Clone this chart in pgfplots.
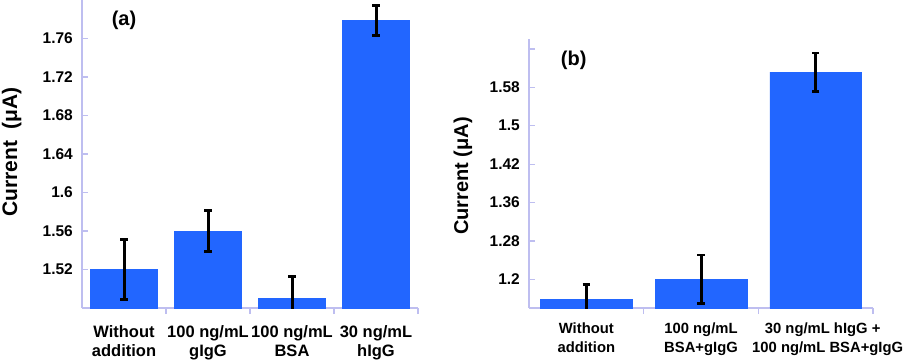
\documentclass[border=0pt]{standalone}
\usepackage{pgfplots}
\pgfplotsset{compat=1.18}
\usepackage{fontspec}
\setmainfont{Liberation Sans}
\definecolor{barblue}{RGB}{34,102,255}
\definecolor{axcol}{RGB}{190,190,240}
\pgfplotsset{
  mystyle/.style={
    scale only axis,
    axis x line=bottom, axis y line=left,
    axis line style={-, draw=axcol, line width=1.2pt},
    tick align=inside,
    every major x tick/.append style={draw=none},
    every minor x tick/.append style={draw=axcol, line width=1.2pt},
    every major y tick/.append style={draw=axcol, line width=1.2pt},
    minor tick length=6pt,
    major tick length=6pt,
    yticklabel style={font=\fontsize{15.5}{18}\selectfont\bfseries, inner sep=0pt, xshift=-9pt},
    ybar, 
    clip=true,
    error bars/error bar style={line width=3pt, black},
    error bars/error mark options={line width=2.8pt, mark size=3.6pt, black, rotate=90},
  }
}
\begin{document}
\begin{tikzpicture}
\path[use as bounding box] (0,0) rectangle (907pt,360pt);
% Panel (a)
\begin{axis}[mystyle,
  at={(82pt,52pt)}, anchor=south west,
  width=336pt, height=308pt,
  xmin=-0.5, xmax=3.5, ymin=1.48, ymax=1.80,
  bar width=67pt,
  xtick={0,1,2,3},
  minor xtick={0.5,1.5,2.5,3.5},
  xticklabels={{Without\\addition},{100 ng/mL\\gIgG},{100 ng/mL\\BSA},{30 ng/mL\\hIgG}},
  xticklabel style={font=\fontsize{16.5}{19}\selectfont\bfseries, align=center, inner sep=0pt, yshift=-11pt},
  ytick={1.52,1.56,1.60,1.64,1.68,1.72,1.76},
  yticklabels={1.52,1.56,1.6,1.64,1.68,1.72,1.76},
]
\addplot[fill=barblue, draw=barblue,
  error bars/.cd, y dir=both, y explicit]
  coordinates {
  (0,1.520) +- (0,0.031)
  (1,1.560) +- (0,0.021)
  (2,1.490) +- (0,0.023)
  (3,1.779) +- (0,0.0155)
  };
\node[font=\fontsize{20}{24}\selectfont\bfseries] at (axis cs:0,1.7785) {(a)};
\end{axis}
\node[rotate=90, anchor=base, font=\fontsize{21}{25}\selectfont\bfseries] at (17pt,208pt) {Current\ \ (μA)};
% Panel (b)
\begin{axis}[mystyle,
  at={(529pt,52pt)}, anchor=south west,
  width=344pt, height=269pt,
  xmin=-0.5, xmax=2.5, ymin=1.1432, ymax=1.6756,
  bar width=91.5pt,
  xtick={0,1,2},
  minor xtick={0.5,1.5,2.5},
  xticklabels={{Without\\addition},{100 ng/mL\\BSA+gIgG},{\hspace*{14pt}30 ng/mL hIgG +\\\hspace*{24pt}100 ng/mL BSA+gIgG}},
  xticklabel style={font=\fontsize{14.8}{18.3}\selectfont\bfseries, align=center, inner sep=0pt, yshift=-9pt},
  ytick={1.2,1.276,1.352,1.428,1.504,1.58,1.656},
  yticklabels={1.2,1.28,1.36,1.42,1.5,1.58,{}},
]
\addplot[fill=barblue, draw=barblue,
  error bars/.cd, y dir=both, y explicit]
  coordinates {
  (0,1.161) +- (0,0.029)
  (1,1.200) +- (0,0.048)
  (2,1.610) +- (0,0.038)
  };
\node[font=\fontsize{20}{24}\selectfont\bfseries] at (axis cs:-0.11,1.634) {(b)};
\end{axis}
\node[rotate=90, anchor=base, font=\fontsize{20}{24}\selectfont\bfseries] at (468pt,184pt) {Current (μA)};
\end{tikzpicture}
\end{document}
